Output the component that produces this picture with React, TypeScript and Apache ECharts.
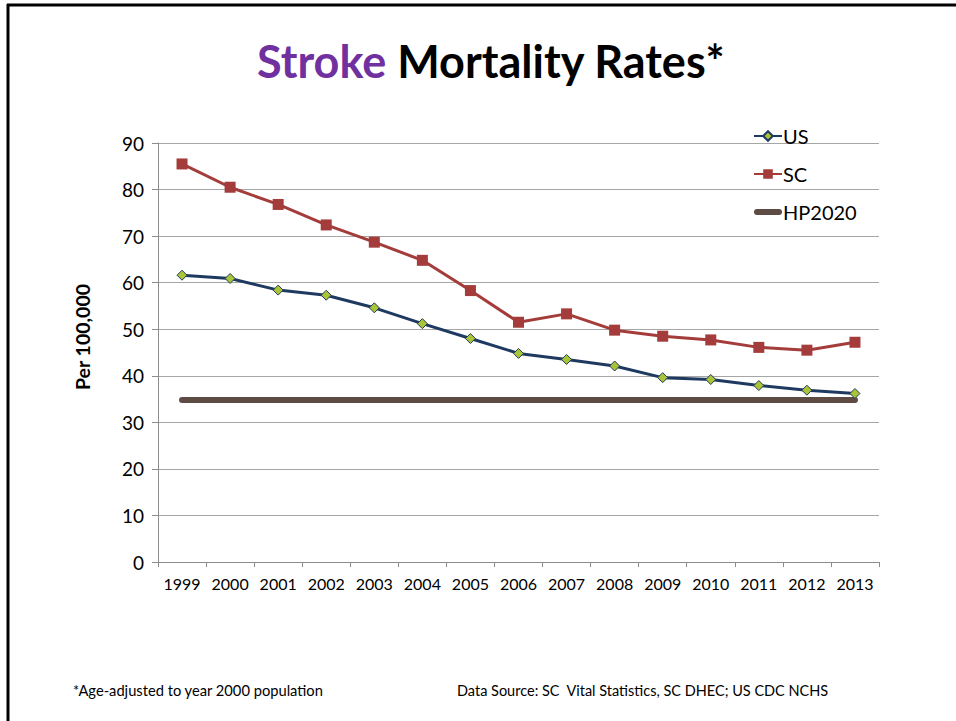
import React, { useEffect, useRef } from "react";
import * as echarts from "echarts";

const years = ["1999", "2000", "2001", "2002", "2003", "2004", "2005", "2006", "2007", "2008", "2009", "2010", "2011", "2012", "2013"];
const usValues = [61.6, 60.9, 58.4, 57.3, 54.6, 51.2, 48.0, 44.8, 43.5, 42.1, 39.6, 39.2, 37.9, 36.9, 36.2];
const scValues = [85.5, 80.5, 76.8, 72.4, 68.7, 64.8, 58.3, 51.5, 53.3, 49.8, 48.5, 47.7, 46.1, 45.5, 47.2];
const hp2020Values = [34.8, 34.8, 34.8, 34.8, 34.8, 34.8, 34.8, 34.8, 34.8, 34.8, 34.8, 34.8, 34.8, 34.8, 34.8];
const yTicks = { min: 0, max: 90, interval: 10 };

const FONT = "Lato, 'Open Sans', sans-serif";

export default function App() {
  const ref = useRef<HTMLDivElement>(null);
  useEffect(() => {
    if (!ref.current) return;
    const chart = echarts.init(ref.current, null, { renderer: "svg" });
    chart.setOption({
      animation: false,
      backgroundColor: "#ffffff",
      textStyle: { fontFamily: FONT },
      title: {
        text: "{a|Stroke}{b| Mortality Rates*}",
        left: 252,
        top: 33,
        textStyle: {
          rich: {
            a: { fontSize: 45, fontWeight: "bold", color: "#7030A0", fontFamily: FONT },
            b: { fontSize: 45, fontWeight: "bold", color: "#000000", fontFamily: FONT },
          },
        },
      },
      legend: {
        orient: "vertical",
        left: 748,
        top: 121,
        itemGap: 18,
        itemWidth: 28,
        itemHeight: 12,
        textStyle: { fontSize: 20, color: "#000", fontFamily: FONT, padding: [0, 0, 0, -4] },
        data: [
          "US",
          "SC",
          { name: "HP2020", icon: "path://M3,0L25,0A3,3,0,0,1,25,6L3,6A3,3,0,0,1,3,0Z" },
        ],
      },
      grid: { left: 158, right: 77, top: 143, bottom: 159 },
      xAxis: {
        type: "category",
        data: years,
        boundaryGap: true,
        axisLine: { lineStyle: { color: "#8c8c8c", width: 1 } },
        axisTick: { show: true, length: 5, lineStyle: { color: "#8c8c8c" } },
        axisLabel: { fontSize: 16, color: "#000", margin: 13, fontFamily: FONT, interval: 0 },
      },
      yAxis: {
        type: "value",
        min: yTicks.min,
        max: yTicks.max,
        interval: yTicks.interval,
        axisLine: { show: true, lineStyle: { color: "#8c8c8c", width: 1 } },
        axisTick: { show: true, length: 6, lineStyle: { color: "#8c8c8c" } },
        axisLabel: { fontSize: 19, color: "#000", margin: 14, fontFamily: FONT },
        splitLine: { lineStyle: { color: "#a6a6a6", width: 1 } },
      },
      graphic: [
        { type: "line", shape: { x1: 7, y1: 5, x2: 956, y2: 5 }, style: { stroke: "#000", lineWidth: 3 } },
        { type: "line", shape: { x1: 8, y1: 4, x2: 8, y2: 721 }, style: { stroke: "#000", lineWidth: 3 } },
        {
          type: "text",
          x: 82,
          y: 337,
          rotation: Math.PI / 2,
          style: {
            text: "Per 100,000",
            fontSize: 19.5,
            fontWeight: "bold",
            fill: "#000",
            fontFamily: FONT,
            align: "center",
            verticalAlign: "middle",
          },
        },
        {
          type: "text",
          x: 73,
          y: 690,
          style: { text: "*Age-adjusted to year 2000 population", fontSize: 14.7, fill: "#000", fontFamily: FONT, verticalAlign: "middle" },
        },
        {
          type: "text",
          x: 457,
          y: 690,
          style: { text: "Data Source: SC  Vital Statistics, SC DHEC; US CDC NCHS", fontSize: 14.5, fill: "#000", fontFamily: FONT, verticalAlign: "middle" },
        },
      ],
      series: [
        {
          name: "HP2020",
          type: "line",
          data: hp2020Values,
          symbol: "none",
          lineStyle: { color: "#5E4B43", width: 6, cap: "round" },
          itemStyle: { color: "#5E4B43" },
          z: 1,
        },
        {
          name: "US",
          type: "line",
          data: usValues,
          symbol: "diamond",
          symbolSize: 10,
          lineStyle: { color: "#1F3A60", width: 3 },
          itemStyle: { color: "#A9C437", borderColor: "#1F3A60", borderWidth: 1 },
          z: 3,
        },
        {
          name: "SC",
          type: "line",
          data: scValues,
          symbol: "rect",
          symbolSize: 11,
          lineStyle: { color: "#A33C3A", width: 3 },
          itemStyle: { color: "#A33C3A" },
          z: 2,
        },
      ],
    });
    return () => chart.dispose();
  }, []);
  return <div ref={ref} style={{ position: "fixed", left: 0, top: 0, width: 956, height: 721 }} />;
}
